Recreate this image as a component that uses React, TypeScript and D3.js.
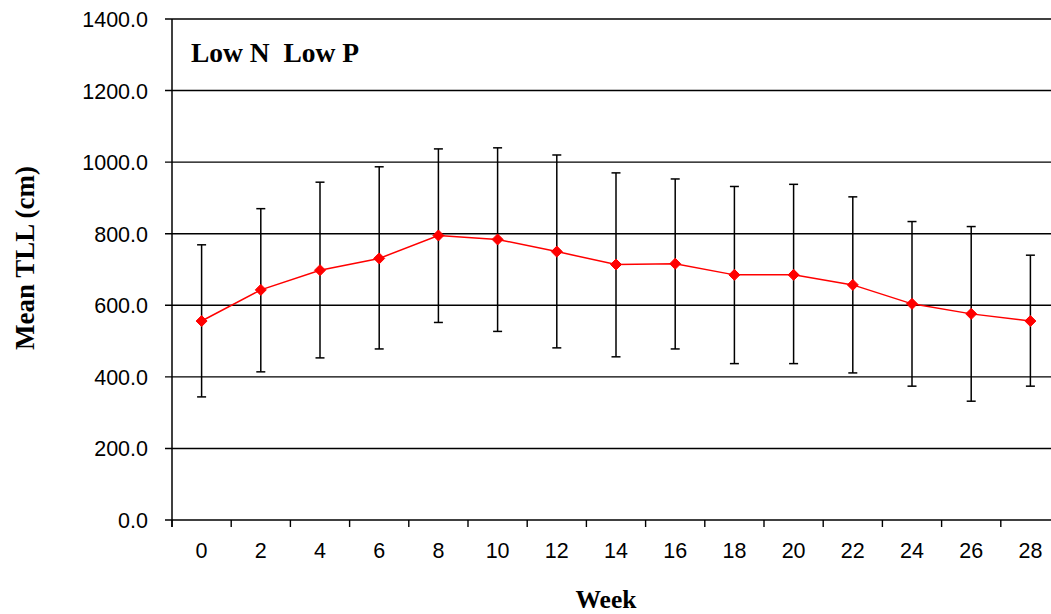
import React from 'react';
import * as d3 from 'd3';

const weeks = ['0', '2', '4', '6', '8', '10', '12', '14', '16', '18', '20', '22', '24', '26', '28'];
const meanTLL = [556, 643, 698, 731, 795, 784, 750, 714, 716, 685, 685, 657, 604, 576, 556];
const upper = [769, 870, 944, 987, 1037, 1040, 1020, 970, 953, 932, 938, 903, 834, 820, 740];
const lower = [344, 414, 453, 478, 552, 527, 481, 456, 478, 437, 437, 411, 374, 332, 374];
const yTicks = [0, 200, 400, 600, 800, 1000, 1200, 1400];

export default () => {
  const width = 1051;
  const height = 614;
  const left = 172, top = 19, bottom = 520, right = 1060;

  const x = d3.scaleBand().domain(weeks).range([left, right]);
  const y = d3.scaleLinear().domain([0, 1400]).range([bottom, top]);
  const cx = (w: string) => (x(w) as number) + x.bandwidth() / 2;

  const line = d3.line<number>()
    .x((d, i) => cx(weeks[i]))
    .y((d) => y(d));

  const diamond = (px: number, py: number, r: number) =>
    `M${px},${py - r}L${px + r},${py}L${px},${py + r}L${px - r},${py}Z`;

  const boundaries = weeks.map((w) => x(w) as number);
  const serif = 'Liberation Serif, Times New Roman, serif';
  const sans = 'Liberation Sans, Arial, sans-serif';

  return (
    <svg width={width} height={height} style={{ position: 'absolute', left: 0, top: 0, background: '#fff' }}>
      {/* grid + y ticks */}
      {yTicks.map((t) => (
        <g key={t}>
          <line x1={left - 7} x2={width} y1={y(t)} y2={y(t)} stroke="#000" strokeWidth={1.4} />
          <text x={148} y={y(t) + 8} textAnchor="end" fontFamily={sans} fontSize={21.5} fill="#000">
            {t.toFixed(1)}
          </text>
        </g>
      ))}
      {/* axes */}
      <line x1={left} x2={left} y1={top} y2={bottom + 7} stroke="#000" strokeWidth={1.5} />
      {boundaries.map((b, i) => (
        <line key={i} x1={b} x2={b} y1={bottom} y2={bottom + 7} stroke="#000" strokeWidth={1.4} />
      ))}
      {weeks.map((w) => (
        <text key={w} x={cx(w)} y={558} textAnchor="middle" fontFamily={sans} fontSize={21.5} fill="#000">
          {w}
        </text>
      ))}
      {/* error bars */}
      {weeks.map((w, i) => (
        <g key={w} stroke="#000" strokeWidth={1.5}>
          <line x1={cx(w)} x2={cx(w)} y1={y(upper[i])} y2={y(lower[i])} />
          <line x1={cx(w) - 4.5} x2={cx(w) + 4.5} y1={y(upper[i])} y2={y(upper[i])} />
          <line x1={cx(w) - 4.5} x2={cx(w) + 4.5} y1={y(lower[i])} y2={y(lower[i])} />
        </g>
      ))}
      <path d={line(meanTLL) || ''} fill="none" stroke="#ff0000" strokeWidth={1.5} />
      {meanTLL.map((v, i) => (
        <path key={i} d={diamond(cx(weeks[i]), y(v), 5.5)} fill="#ff0000" stroke="#ff0000" strokeWidth={1} />
      ))}
      <text x={191} y={62} fontFamily={serif} fontWeight="bold" fontSize={27.5} fill="#000" style={{ whiteSpace: 'pre' }}>
        {'Low N  Low P'}
      </text>
      <text x={606} y={608} textAnchor="middle" fontFamily={serif} fontWeight="bold" fontSize={25.5} fill="#000">
        Week
      </text>
      <text transform="translate(34,258) rotate(-90)" textAnchor="middle" fontFamily={serif} fontWeight="bold" fontSize={27} fill="#000">
        Mean TLL (cm)
      </text>
    </svg>
  );
};
